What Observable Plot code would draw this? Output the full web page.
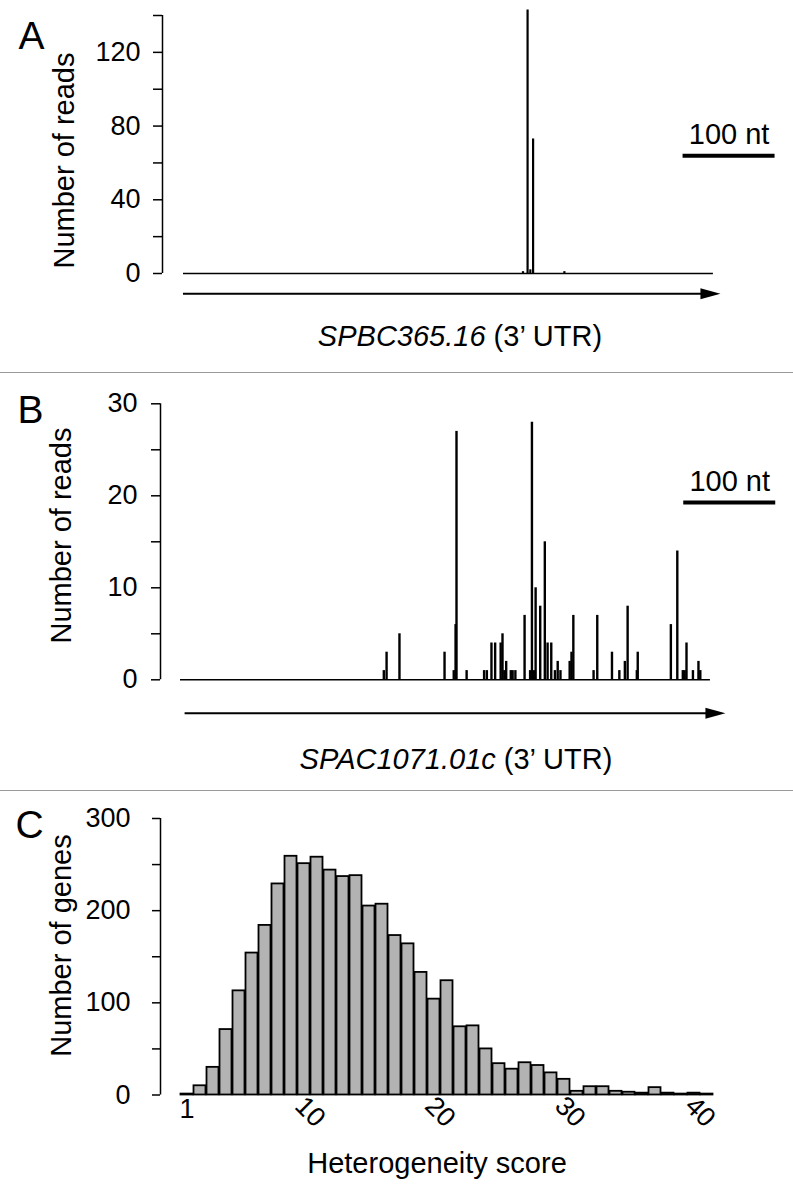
<!DOCTYPE html>
<html>
<head>
<meta charset="utf-8">
<script src="https://cdn.jsdelivr.net/npm/d3@7"></script>
<script src="https://cdn.jsdelivr.net/npm/@observablehq/plot@0.6"></script>
<style>
  body { margin: 0; background: #fff; }
  #fig { position: relative; width: 793px; height: 1197px; overflow: hidden; background: #fff; }
  .sep { position: absolute; left: 0; width: 793px; height: 0; border-top: 1.5px solid #9a9a9a; z-index: 5; }
</style>
</head>
<body>
<div id="fig"></div>
<script>
// ---------------- DATA ----------------
// Panel A: SPBC365.16 3' UTR read counts (position in nt, reads)
const geneA = "SPBC365.16";
const utrLenA = 576;
const spikePosA = [369, 374, 377, 380, 414];
const spikeReadsA = [1, 143, 2, 73, 1];
const yTicksA = [0, 20, 40, 60, 80, 100, 120, 140];
const yLabelsA = [0, 40, 80, 120];

// Panel B: SPAC1071.01c 3' UTR read counts
const geneB = "SPAC1071.01c";
const utrLenB = 576;
const spikePosB = [221, 224, 238, 287, 297, 299, 300, 311, 330, 333,
                   338, 342, 348, 350, 352, 354, 359, 361, 364, 374,
                   380, 382, 384, 386, 391, 396, 399, 403, 407, 410,
                   413, 423, 425, 427, 449, 453, 469, 477, 483, 486,
                   496, 497, 533, 540, 546, 548, 550, 557, 563, 565];
const spikeReadsB = [1, 3, 5, 3, 1, 6, 27, 1, 1, 1,
                     4, 4, 4, 5, 1, 2, 1, 1, 1, 7,
                     1, 28, 1, 10, 8, 15, 4, 4, 1, 2,
                     1, 2, 3, 7, 1, 7, 3, 1, 2, 8,
                     1, 3, 6, 14, 1, 1, 4, 1, 2, 1];
const yTicksB = [0, 5, 10, 15, 20, 25, 30];
const yLabelsB = [0, 10, 20, 30];

// Panel C: histogram of heterogeneity scores
const histScores = [1, 2, 3, 4, 5, 6, 7, 8, 9, 10,
                    11, 12, 13, 14, 15, 16, 17, 18, 19, 20,
                    21, 22, 23, 24, 25, 26, 27, 28, 29, 30,
                    31, 32, 33, 34, 35, 36, 37, 38, 39, 40, 41];
const histCounts = [1, 10, 30, 71, 113, 154, 184, 229, 259, 251,
                    258, 244, 237, 238, 205, 207, 173, 164, 133, 104,
                    124, 74, 75, 50, 34, 28, 35, 32, 24, 17,
                    4, 9, 9, 4, 3, 2, 8, 2, 1, 2, 1];
const yTicksC = [0, 50, 100, 150, 200, 250, 300];
const yLabelsC = [0, 100, 200, 300];
const xTicksC = [1, 10, 20, 30, 40];

const scaleBarNt = 100;
const utrSuffix = "(3\u2019 UTR)";

// ---------------- HELPERS ----------------
const FF = "'Liberation Sans', Arial, Helvetica, sans-serif";
const W = 793;
const pxPerNt = 0.92;
const TICK = 27, TITLE = 29;

function measure(t, font) {
  const c = document.createElement("canvas").getContext("2d");
  c.font = font;
  return c.measureText(t).width;
}
const arrowHead = {
  draw(ctx) { ctx.moveTo(7, 0); ctx.lineTo(-13, -5.5); ctx.lineTo(-13, 5.5); ctx.closePath(); }
};
function geneLabel(name, rest, centerX, marginLeft, dy, size) {
  const wI = measure(name, `italic ${size}px ${FF}`);
  const wS = measure(" ", `${size}px ${FF}`);
  const wR = measure(rest, `${size}px ${FF}`);
  const left = centerX - (wI + wS + wR) / 2;
  return [
    Plot.text([name], {text: d => d, frameAnchor: "bottom-left", dx: left + wI - marginLeft, dy,
      textAnchor: "end", lineAnchor: "bottom", fontStyle: "italic", fontSize: size, fill: "black"}),
    Plot.text([rest], {text: d => d, frameAnchor: "bottom-left", dx: left + wI + wS - marginLeft, dy,
      textAnchor: "start", lineAnchor: "bottom", fontSize: size, fill: "black"})
  ];
}
const style = {fontFamily: FF, fontSize: "27px", background: "white", color: "black", overflow: "visible"};

const fig = document.getElementById("fig");
function place(el, top) {
  el.style.position = "absolute"; el.style.left = "0px"; el.style.top = top + "px";
  fig.appendChild(el);
}
function sep(top) {
  const d = document.createElement("div"); d.className = "sep"; d.style.top = top + "px"; fig.appendChild(d);
}

// ---------------- PANEL A ----------------
const dataA = spikePosA.map((p, i) => ({pos: p, reads: spikeReadsA[i]}));
const mlA = 162, insA = 21;
const mrA = W - (mlA + insA) - utrLenA * pxPerNt;
const barStartA = 543;
const plotA = Plot.plot({
  width: W, height: 372, marginTop: 15, marginBottom: 99, marginLeft: mlA, marginRight: mrA,
  style,
  x: {domain: [0, utrLenA], insetLeft: insA, axis: null},
  y: {domain: [0, 140]},
  marks: [
    Plot.axisY({ticks: yTicksA, tickSize: 9, tickPadding: 13, strokeWidth: 1.5,
      tickFormat: d => yLabelsA.includes(d) ? String(d) : "", fontSize: TICK, label: null}),
    Plot.ruleX([0], {y1: 0, y2: 140, dx: -insA, strokeWidth: 1.5}),
    Plot.ruleY([0], {x1: 0, x2: utrLenA, strokeWidth: 1.5}),
    Plot.ruleX(dataA, {x: "pos", y1: 0, y2: "reads", strokeWidth: 2.2}),
    Plot.ruleY([0], {x1: 0, x2: utrLenA, dy: 20.3, strokeWidth: 2}),
    Plot.dot([utrLenA], {x: d => d, y: 0, dy: 20.3, symbol: arrowHead, fill: "black", stroke: null}),
    Plot.ruleY([63.9], {x1: barStartA, x2: barStartA + scaleBarNt, strokeWidth: 4}),
    Plot.text([scaleBarNt + " nt"], {text: d => d, x: barStartA + scaleBarNt / 2, y: 63.9, dy: -11.5,
      lineAnchor: "bottom", fontSize: TITLE, fill: "black"}),
    Plot.text(["Number of reads"], {text: d => d, frameAnchor: "left", textAnchor: "middle", dx: -98, dy: 16, rotate: -90, fontSize: TITLE, fill: "black"}),
    Plot.text(["A"], {text: d => d, frameAnchor: "top-left", dx: -144, dy: 33, textAnchor: "start", lineAnchor: "bottom", fontSize: 39, fill: "black"}),
    ...geneLabel(geneA, utrSuffix, 460, mlA, 72, TITLE)
  ]
});
place(plotA, 0);

// ---------------- PANEL B ----------------
const dataB = spikePosB.map((p, i) => ({pos: p, reads: spikeReadsB[i]}));
const mlB = 160, insB = 20;
const mrB = W - (mlB + insB) - utrLenB * pxPerNt;
const barStartB = 547;
const plotB = Plot.plot({
  width: W, height: 418, marginTop: 31.3, marginBottom: 110.7, marginLeft: mlB, marginRight: mrB,
  style,
  x: {domain: [0, utrLenB], insetLeft: insB, axis: null},
  y: {domain: [0, 30]},
  marks: [
    Plot.axisY({ticks: yTicksB, tickSize: 9, tickPadding: 14, strokeWidth: 1.5,
      tickFormat: d => yLabelsB.includes(d) ? String(d) : "", fontSize: TICK, label: null}),
    Plot.ruleX([0], {y1: 0, y2: 30, dx: -insB, strokeWidth: 1.5}),
    Plot.ruleY([0], {x1: 0, x2: utrLenB, strokeWidth: 1.5}),
    Plot.ruleX(dataB, {x: "pos", y1: 0, y2: "reads", strokeWidth: 2.4}),
    Plot.ruleY([0], {x1: 5, x2: utrLenB, dy: 33.4, strokeWidth: 2}),
    Plot.dot([utrLenB], {x: d => d, y: 0, dx: 8, dy: 33.4, symbol: arrowHead, fill: "black", stroke: null}),
    Plot.ruleY([19.27], {x1: barStartB, x2: barStartB + scaleBarNt, strokeWidth: 4}),
    Plot.text([scaleBarNt + " nt"], {text: d => d, x: barStartB + scaleBarNt / 2, y: 19.27, dy: -12,
      lineAnchor: "bottom", fontSize: TITLE, fill: "black"}),
    Plot.text(["Number of reads"], {text: d => d, frameAnchor: "left", textAnchor: "middle", dx: -99, dy: -6.3, rotate: -90, fontSize: TITLE, fill: "black"}),
    Plot.text(["B"], {text: d => d, frameAnchor: "top-left", dx: -143, dy: 18.7, textAnchor: "start", lineAnchor: "bottom", fontSize: 39, fill: "black"}),
    ...geneLabel(geneB, utrSuffix, 456, mlB, 88.7, TITLE)
  ]
});
place(plotB, 372);

// ---------------- PANEL C ----------------
const hist = histScores.map((s, i) => ({score: s, count: histCounts[i]}));
const mlC = 160, insC = 20;
const lo = d3.min(histScores) - 0.5, hi = d3.max(histScores) + 0.5;
const plotC = Plot.plot({
  width: W, height: 407, marginTop: 28, marginBottom: 102.5, marginLeft: mlC, marginRight: 80,
  style,
  x: {domain: [lo, hi], insetLeft: insC, axis: null},
  y: {domain: [0, 300]},
  marks: [
    Plot.axisY({ticks: yTicksC, tickSize: 8, tickPadding: 22, strokeWidth: 1.5,
      tickFormat: d => yLabelsC.includes(d) ? String(d) : "", fontSize: TICK, label: null}),
    Plot.ruleX([lo], {y1: 0, y2: 300, dx: -insC, strokeWidth: 1.5}),
    Plot.rect(hist, {x1: d => d.score - 0.5, x2: d => d.score + 0.5, y1: 0, y2: "count",
      insetLeft: 0.5, insetRight: 0.5, fill: "#b3b3b3", stroke: "black", strokeWidth: 1.8}),
    Plot.text(xTicksC, {x: d => d, text: d => String(d), frameAnchor: "bottom", dy: 23,
      rotate: d => d === 1 ? 0 : 45, fontSize: TICK, fill: "black"}),
    Plot.text(["Heterogeneity score"], {text: d => d, frameAnchor: "bottom", dy: 77.5, lineAnchor: "bottom", fontSize: TITLE, fill: "black"}),
    Plot.text(["Number of genes"], {text: d => d, frameAnchor: "left", textAnchor: "middle", dx: -99, dy: -11.25, rotate: -90, fontSize: TITLE, fill: "black"}),
    Plot.text(["C"], {text: d => d, frameAnchor: "top-left", dx: -145, dy: 19, textAnchor: "start", lineAnchor: "bottom", fontSize: 39, fill: "black"})
  ]
});
place(plotC, 790);

sep(372);
sep(790);
</script>
</body>
</html>
